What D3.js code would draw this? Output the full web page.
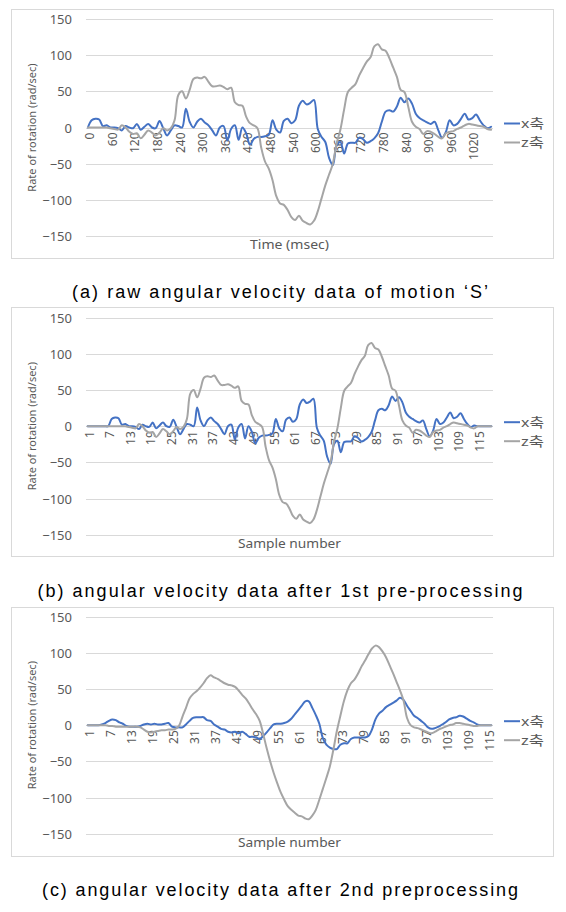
<!DOCTYPE html>
<html><head><meta charset="utf-8">
<script src="https://cdn.jsdelivr.net/npm/d3@7/dist/d3.min.js"></script>
<style>html,body{margin:0;padding:0;background:#fff;}</style>
</head><body>
<svg id="chart" width="566" height="912"></svg>
<script>
// ---------- DATA ----------
const aCategories = d3.range(108).map(i => i * 10);      // Time (msec)
const bCategories = d3.range(1, 120);                     // Sample number
const cCategories = d3.range(1, 117);                     // Sample number

const aTickLabels = [0,60,120,180,240,300,360,420,480,540,600,660,720,780,840,900,960,1020];
const sampleTickLabels = [1,7,13,19,25,31,37,43,49,55,61,67,73,79,85,91,97,103,109,115];
const yTickLabels = [150,100,50,0,-50,-100,-150];

const aX = [0,10,12,11,2,3,0,0,-1,-4,
 2,0,-1,5,-3,1,5,0,-1,9,
 -1,-11,-4,3,2,0,26,8,0,8,
 12,7,3,-4,-11,0,2,-18,-2,3,
 -17,0,-8,-24,-16,-13,-13,-12,-10,10,
 -3,-7,9,12,6,10,30,37,32,34,
 38,-2,-13,-20,-42,-52,-25,-20,-36,-22,
 -21,-21,-14,-16,-21,-19,-15,-8,8,22,
 24,22,29,41,35,40,33,19,13,10,
 7,5,8,-4,-14,-6,10,3,5,12,
 19,11,13,18,10,3,-1,1];
const aZ = [0,0,0,0,0,0,-1,-2,-3,3,
 0,-6,-9,-8,-15,-10,-4,-7,-11,-7,
 -1,-4,-1,10,45,50,40,52,67,69,
 68,70,63,57,57,58,56,53,55,35,
 31,30,15,6,3,-1,-28,-47,-57,-73,
 -95,-105,-107,-114,-124,-128,-122,-129,-132,-134,
 -129,-116,-98,-80,-65,-50,-22,-3,25,49,
 55,60,72,82,91,97,112,115,108,106,
 96,83,70,52,49,29,8,1,-2,-9,
 -5,-6,-9,-13,-15,-8,-6,-5,-2,0,
 3,5,4,3,2,1,-2,-3];

const bX = [0,0,0,0,0,0,
 0,10,12,11,2,3,0,0,-1,-4,
 2,0,-1,5,-3,1,5,0,-1,9,
 -1,-11,-4,3,2,0,26,8,0,8,
 12,7,3,-4,-11,0,2,-18,-2,3,
 -17,0,-8,-24,-16,-13,-13,-12,-10,10,
 -3,-7,9,12,6,10,30,37,32,34,
 38,-2,-13,-20,-42,-52,-25,-20,-36,-22,
 -21,-21,-14,-16,-21,-19,-15,-8,8,22,
 24,22,29,41,35,40,33,19,13,10,
 7,5,8,-4,-14,-6,10,3,5,12,
 19,11,13,18,10,3,-1,1,
 0,0,0,0,0];
const bZ = [0,0,0,0,0,0,
 0,0,0,0,0,0,-1,-2,-3,3,
 0,-6,-9,-8,-15,-10,-4,-7,-11,-7,
 -1,-4,-1,10,45,50,40,52,67,69,
 68,70,63,57,57,58,56,53,55,35,
 31,30,15,6,3,-1,-28,-47,-57,-73,
 -95,-105,-107,-114,-124,-128,-122,-129,-132,-134,
 -129,-116,-98,-80,-65,-50,-22,-3,25,49,
 55,60,72,82,91,97,112,115,108,106,
 96,83,70,52,49,29,8,1,-2,-9,
 -5,-6,-9,-13,-15,-8,-6,-5,-2,0,
 3,5,4,3,2,1,-2,-3,
 0,0,0,0,0];

const cX = [0,0,0,0,1,3,6,8,7,4,
 2,-1,-2,-2,-2,-1,1,2,1,2,
 1,1,2,3,-2,-3,-3,-3,1,6,
 10,11,11,11,7,6,1,-2,-5,-6,
 -9,-10,-9,-11,-9,-12,-16,-16,-17,-19,
 -15,-10,-4,1,2,2,3,5,9,15,
 21,27,33,33,24,14,2,-18,-27,-31,
 -33,-33,-27,-25,-25,-19,-17,-17,-17,-17,
 -15,-6,8,16,20,25,28,31,34,38,
 35,27,20,13,10,6,2,-3,-5,-4,
 -2,1,4,8,10,11,13,12,9,6,
 4,1,0,0,0,0];
const cZ = [0,0,0,0,0,0,-1,-1,-2,-2,
 -2,-2,-2,-2,-2,-3,-6,-9,-10,-9,
 -8,-7,-7,-6,-6,-5,-1,12,24,37,
 43,47,52,58,65,69,66,64,61,58,
 56,55,53,48,42,37,30,22,15,6,
 -12,-32,-50,-66,-80,-93,-103,-112,-117,-121,
 -125,-126,-129,-130,-125,-117,-103,-88,-73,-57,
 -34,-8,13,33,48,58,63,71,81,89,
 98,106,110,108,102,94,83,72,60,48,
 34,10,0,-3,-4,-6,-8,-10,-11,-9,
 -6,-4,-2,0,1,3,3,2,1,0,
 -1,-1,0,0,0,0];

const seriesNames = ["x축", "z축"];
const seriesColors = ["#4472C4", "#A5A5A5"];

const panels = [
  {boxTop: 9, plotTop: 19, cats: aCategories, ticks: aTickLabels, x: aX, z: aZ,
   xTitle: "Time (msec)", caption: "(a) raw angular velocity data of motion \u2018S\u2019", capY: 297.5, capLen: 416},
  {boxTop: 307, plotTop: 317.7, cats: bCategories, ticks: sampleTickLabels, x: bX, z: bZ,
   xTitle: "Sample number", caption: "(b) angular velocity data after 1st pre-processing", capY: 597, capLen: 485},
  {boxTop: 607, plotTop: 616.7, cats: cCategories, ticks: sampleTickLabels, x: cX, z: cZ,
   xTitle: "Sample number", caption: "(c) angular velocity data after 2nd preprocessing", capY: 896, capLen: 476}
];

// ---------- DRAW ----------
const svg = d3.select("#chart");
const font = "'Noto Sans', 'Noto Sans CJK KR', sans-serif";
const capFont = "'Liberation Sans', 'Noto Sans', sans-serif";
const textColor = "#595959";
const gridColor = "#d9d9d9";
const plotLeft = 86, plotRight = 493, plotH = 217;

panels.forEach(p => {
  const g = svg.append("g");
  g.append("rect").attr("x", 11.5).attr("y", p.boxTop + 0.5)
    .attr("width", 542).attr("height", 249)
    .attr("fill", "#fff").attr("stroke", gridColor).attr("stroke-width", 1);

  const y = d3.scaleLinear().domain([-150, 150]).range([p.plotTop + plotH, p.plotTop]);
  const x = d3.scalePoint().domain(p.cats).range([plotLeft, plotRight]).padding(0.5);

  // gridlines
  g.append("g").selectAll("line").data(yTickLabels).join("line")
    .attr("x1", plotLeft).attr("x2", plotRight)
    .attr("y1", d => Math.round(y(d)) + 0.5).attr("y2", d => Math.round(y(d)) + 0.5)
    .attr("stroke", gridColor).attr("stroke-width", 1);

  // y axis labels
  const gy = g.append("g").attr("transform", `translate(${plotLeft - 14},0)`)
    .call(d3.axisLeft(y).tickValues(yTickLabels).tickSize(0).tickPadding(0));
  gy.select(".domain").remove();
  gy.attr("font-family", null).attr("font-size", null);
  gy.selectAll("text").attr("fill", textColor).attr("font-family", font)
    .attr("font-size", 13).attr("x", 0).attr("dy", "0.35em");

  // x axis labels (rotated)
  const gx = g.append("g").attr("transform", `translate(0,${y(0)})`)
    .call(d3.axisBottom(x).tickValues(p.ticks).tickSize(0).tickPadding(0));
  gx.select(".domain").remove();
  gx.attr("font-family", null).attr("font-size", null);
  gx.selectAll("text").attr("fill", textColor).attr("font-family", font)
    .attr("font-size", 12).attr("transform", "rotate(-90)")
    .attr("text-anchor", "end").attr("x", -5).attr("y", 1.5).attr("dy", "0.35em");

  // y title
  g.append("text").attr("transform", `translate(32,${p.plotTop + plotH / 2}) rotate(-90)`)
    .attr("text-anchor", "middle").attr("dy", "0.35em")
    .attr("font-family", font).attr("font-size", 11).attr("fill", textColor)
    .text("Rate of rotation (rad/sec)");

  // x title
  g.append("text").attr("x", (plotLeft + plotRight) / 2).attr("y", p.plotTop + plotH + 13)
    .attr("text-anchor", "middle")
    .attr("font-family", font).attr("font-size", 12).attr("fill", textColor)
    .attr("textLength", p.xTitle.length > 11 ? 103 : 79).attr("lengthAdjust", "spacingAndGlyphs")
    .text(p.xTitle);

  // lines
  const line = d3.line()
    .x((d, i) => x(p.cats[i]))
    .y(d => y(d))
    .curve(d3.curveCatmullRom.alpha(0.5));
  [p.x, p.z].forEach((vals, k) => {
    g.append("path").datum(vals).attr("d", line)
      .attr("fill", "none").attr("stroke", seriesColors[k])
      .attr("stroke-width", 2).attr("stroke-linejoin", "round").attr("stroke-linecap", "round");
  });

  // legend
  seriesNames.forEach((name, k) => {
    const ly = p.plotTop + 104.5 + k * 19;
    g.append("line").attr("x1", 504).attr("x2", 520).attr("y1", ly).attr("y2", ly)
      .attr("stroke", seriesColors[k]).attr("stroke-width", 2);
    g.append("text").attr("x", 521).attr("y", ly).attr("dy", "0.35em")
      .attr("font-family", font).attr("font-size", 13).attr("fill", textColor)
      .attr("textLength", 23).attr("lengthAdjust", "spacingAndGlyphs")
      .text(name);
  });

  // caption
  svg.append("text").attr("x", 280).attr("y", p.capY).attr("text-anchor", "middle")
    .attr("font-family", capFont).attr("font-size", 18).attr("fill", "#000")
    .attr("textLength", p.capLen).attr("lengthAdjust", "spacing")
    .text(p.caption);
});
</script>
</body></html>
